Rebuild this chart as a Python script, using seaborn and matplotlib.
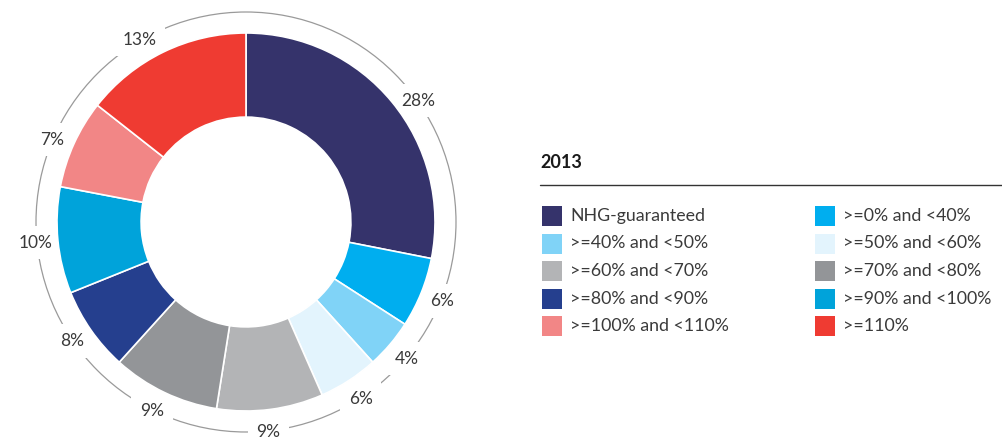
import matplotlib
matplotlib.use("Agg")
import matplotlib.pyplot as plt
import seaborn as sns
import numpy as np
from matplotlib.patches import Rectangle, Circle

categories = ["NHG-guaranteed", ">=0% and <40%", ">=40% and <50%", ">=50% and <60%",
              ">=60% and <70%", ">=70% and <80%", ">=80% and <90%", ">=90% and <100%",
              ">=100% and <110%", ">=110%"]
# printed percentages
labels = [28, 6, 4, 6, 9, 9, 8, 10, 7, 13]
# slice shares as drawn in the picture
shares = [28.1, 6.0, 4.2, 5.1, 9.1, 9.2, 7.2, 9.1, 7.6, 14.4]
colors = ["#35336B", "#00AEEF", "#80D3F7", "#E3F4FD", "#B3B4B6",
          "#939598", "#253F8E", "#00A3DA", "#F28686", "#EF3B32"]
legend_order = [0, 2, 4, 6, 8, 1, 3, 5, 7, 9]
year = "2013"

sns.set_theme(style="white")
plt.rcParams['font.family'] = ['Lato', 'DejaVu Sans']

W, H = 1002, 441
fig = plt.figure(figsize=(W / 100, H / 100), dpi=100)

# pie axes
cx, cy, R = 246, 222, 189
ax = fig.add_axes([0, 0, 492 / W, 1])

wedges, _ = ax.pie(shares, colors=colors, startangle=90, counterclock=False, radius=1,
                   wedgeprops=dict(width=0.445, edgecolor="white", linewidth=1.2))
for w in wedges:
    w.set_zorder(3)
ax.set_aspect("auto")
ax.set_xlim(-cx / R, (492 - cx) / R)
ax.set_ylim(-(H - cy) / R, cy / R)
ax.axis("off")

ring_r = 210 / R
ax.add_patch(Circle((0, 0), ring_r, fill=False, edgecolor="#9a9a9a", linewidth=0.9,
                    zorder=1))

# small angular nudges (degrees) for label placement, as in the original layout
nudge = [-4.3, 0, 0, 0, -1.3, -0.9, -0.6, 0, 1.5, 4.3]
lab_r = 211 / R
total = sum(shares)
start = 90.0
for v, lab, dn in zip(shares, labels, nudge):
    ang = start - 360.0 * v / total / 2 + dn
    start -= 360.0 * v / total
    x, y = lab_r * np.cos(np.radians(ang)), lab_r * np.sin(np.radians(ang))
    ax.text(x, y, f"{lab}%", ha="center", va="center", fontsize=12.5, color="#3a3a3a",
            zorder=2,
            bbox=dict(boxstyle="square,pad=0.5", facecolor="white", edgecolor="none"))

# legend
def px(x, y):
    return x / W, 1 - y / H

fig.text(*px(540, 163), year, fontsize=13, fontweight="bold", color="#1a1a1a",
         ha="left", va="center")
fig.add_artist(plt.Line2D([540 / W, 1.0], [1 - 185 / H] * 2, color="#333333",
                          linewidth=1.0, transform=fig.transFigure))

row_y = [216, 243.5, 271, 298.5, 326]
col_x = [542, 815]
sq = 20
for k, idx in enumerate(legend_order):
    col, row = divmod(k, 5)
    x0, y0 = col_x[col], row_y[row]
    fig.add_artist(Rectangle(((x0) / W, 1 - (y0 + sq / 2) / H), sq / W, sq / H,
                             facecolor=colors[idx], edgecolor="none",
                             transform=fig.transFigure))
    fig.text((x0 + sq + 8) / W, 1 - y0 / H, categories[idx], fontsize=12.8,
             color="#3a3a3a", ha="left", va="center")

fig.savefig("out.png", dpi=100)
